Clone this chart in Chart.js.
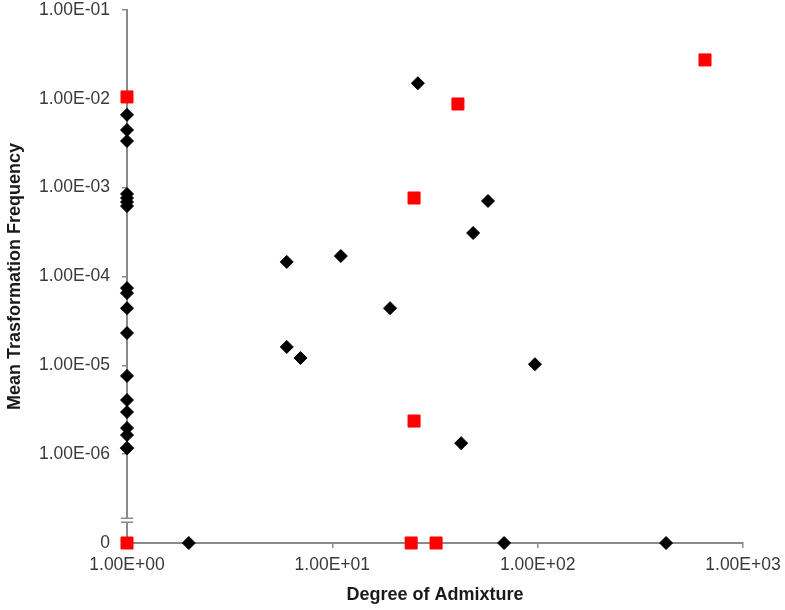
<!DOCTYPE html>
<html>
<head>
<meta charset="utf-8">
<script src="https://cdn.jsdelivr.net/npm/chart.js@4/dist/chart.umd.min.js"></script>
<style>
  html, body { margin: 0; padding: 0; background: #fff; }
  canvas { display: block; }
</style>
</head>
<body>
<canvas id="c" width="785" height="610"></canvas>
<script>
// ---- Data ----
// A value of 0 is drawn on the "0" row below the axis break.
const blackX = [1, 1, 1, 1, 1, 1, 1, 1, 1, 1, 1, 1, 1, 1, 1, 1, 1, 1,
                26.1, 57.3, 48.5, 6.0, 11.0, 19.1, 6.0, 7.0, 97, 42.4,
                2.0, 68.6, 422];
const blackY = [6.6e-3, 4.46e-3, 3.35e-3, 8.5e-4, 7.65e-4, 6.9e-4, 6.2e-4,
                7.4e-5, 6.5e-5, 4.4e-5, 2.31e-5, 7.6e-6, 4.07e-6, 2.98e-6,
                1.97e-6, 1.64e-6, 1.17e-6, 1.17e-6,
                1.50e-2, 7.08e-4, 3.09e-4, 1.46e-4, 1.70e-4, 4.4e-5, 1.61e-5, 1.21e-5, 1.03e-5, 1.33e-6,
                0, 0, 0];
const redX = [1, 40.9, 25.0, 25.0, 653, 1, 24.2, 32.0];
const redY = [1.05e-2, 8.75e-3, 7.65e-4, 2.36e-6, 2.74e-2, 0, 0, 0];

const xTicks = [1, 10, 100, 1000];
const xTickLabels = ['1.00E+00', '1.00E+01', '1.00E+02', '1.00E+03'];
const yTicks = [1e-7, 1e-6, 1e-5, 1e-4, 1e-3, 1e-2, 1e-1];
const yTickLabels = ['0', '1.00E-06', '1.00E-05', '1.00E-04', '1.00E-03', '1.00E-02', '1.00E-01'];

const xTitle = 'Degree of Admixture';
const yTitle = 'Mean Trasformation Frequency';

// ---- Build ----
const ZERO_POS = yTicks[0];
function toPoints(xs, ys) {
  return xs.map((x, i) => ({ x: x, y: ys[i] === 0 ? ZERO_POS : ys[i] }));
}

const AXIS = '#8a8a8a';
const tickFont = { family: 'Liberation Sans, Arial, sans-serif', size: 17.5 };
const titleFont = { family: 'Liberation Sans, Arial, sans-serif', size: 18, weight: 'bold' };

const breakPlugin = {
  id: 'axisBreak',
  afterDraw(chart) {
    const ys = chart.scales.y;
    const ctx = chart.ctx;
    const x0 = chart.chartArea.left;
    const yTop = ys.getPixelForValue(yTicks[1]);
    const yBot = ys.getPixelForValue(yTicks[0]);
    const mid = yTop + (yBot - yTop) * 0.745;
    ctx.save();
    ctx.fillStyle = '#fff';
    ctx.fillRect(x0 - 3, mid - 2, 6, 4);
    ctx.strokeStyle = AXIS;
    ctx.lineWidth = 1.5;
    ctx.beginPath();
    ctx.moveTo(x0 - 6, mid - 2); ctx.lineTo(x0 + 6, mid - 2);
    ctx.moveTo(x0 - 6, mid + 2); ctx.lineTo(x0 + 6, mid + 2);
    ctx.stroke();
    ctx.restore();
  }
};

new Chart(document.getElementById('c'), {
  type: 'scatter',
  data: {
    datasets: [
      {
        label: 'red',
        data: toPoints(redX, redY),
        pointStyle: 'rect',
        pointRadius: 8.5,
        pointBorderWidth: 1,
        backgroundColor: '#ff0000',
        borderColor: '#ff0000',
        clip: false
      },
      {
        label: 'black',
        data: toPoints(blackX, blackY),
        pointStyle: 'rectRot',
        pointRadius: 6.5,
        pointBorderWidth: 1,
        backgroundColor: '#000',
        borderColor: '#000',
        clip: false
      }
    ]
  },
  options: {
    responsive: false,
    animation: false,
    devicePixelRatio: 1,
    layout: { padding: { top: 10, right: 42, left: 0, bottom: 0 } },
    plugins: { legend: { display: false }, tooltip: { enabled: false } },
    scales: {
      x: {
        type: 'logarithmic',
        min: xTicks[0],
        max: xTicks[xTicks.length - 1],
        afterBuildTicks: s => { s.ticks = xTicks.map(v => ({ value: v })); },
        afterFit: s => { s.height = 67; s.paddingLeft = 0; s.paddingRight = 0; },
        border: { display: true, color: AXIS, width: 2 },
        grid: { display: true, drawOnChartArea: false, drawTicks: true, tickLength: 5, color: AXIS, lineWidth: 1.5 },
        ticks: {
          autoSkip: false, maxRotation: 0, padding: 7, color: '#3a3a3a', font: tickFont,
          callback: (v, i) => xTickLabels[i]
        },
        title: { display: true, text: xTitle, color: '#1a1a1a', font: titleFont, padding: { top: 4, bottom: 4 } }
      },
      y: {
        type: 'logarithmic',
        min: yTicks[0],
        max: yTicks[yTicks.length - 1],
        afterBuildTicks: s => { s.ticks = yTicks.map(v => ({ value: v })); },
        afterFit: s => { s.width = 127; s.paddingTop = 0; s.paddingBottom = 0; },
        border: { display: true, color: AXIS, width: 2 },
        grid: { display: true, drawOnChartArea: false, drawTicks: true, tickLength: 5, color: AXIS, lineWidth: 1.5 },
        ticks: {
          autoSkip: false, padding: 12, color: '#3a3a3a', font: tickFont,
          callback: (v, i) => yTickLabels[i]
        },
        title: { display: true, text: yTitle, color: '#1a1a1a', font: titleFont, padding: { top: 4, bottom: 4 } }
      }
    }
  },
  plugins: [breakPlugin]
});
</script>
</body>
</html>
